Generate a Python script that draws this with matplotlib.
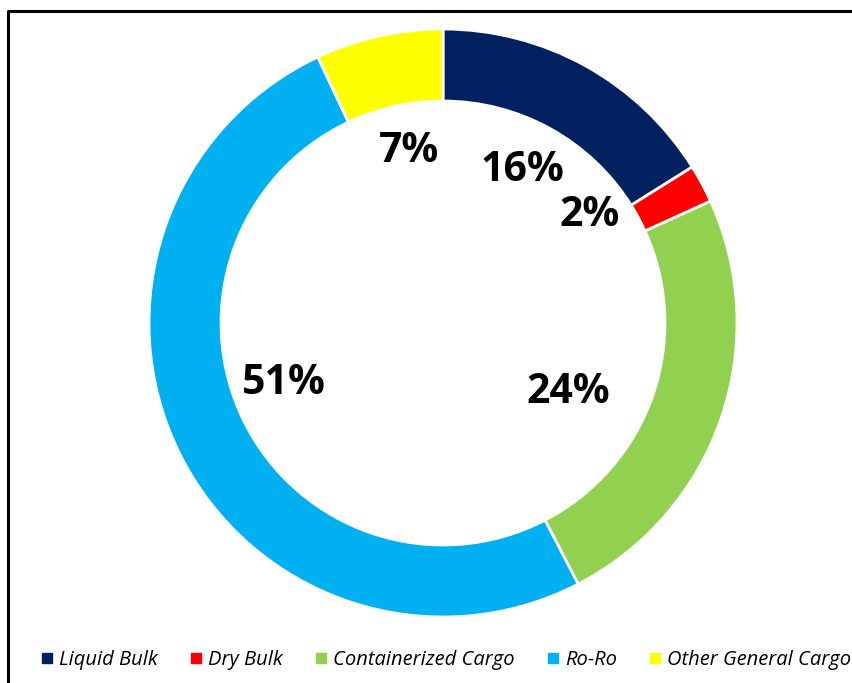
import numpy as np
import matplotlib
matplotlib.use('Agg')
import matplotlib.pyplot as plt
from matplotlib.lines import Line2D

categories = ['Liquid Bulk', 'Dry Bulk', 'Containerized Cargo', 'Ro-Ro', 'Other General Cargo']
shares = [16.1, 2.1, 24.2, 50.6, 7.0]
labels = ['16%', '2%', '24%', '51%', '7%']
colors = ['#002060', '#FF0000', '#92D050', '#00B0F0', '#FFFF00']

# label placement (radius as fraction of outer radius, angle shift in degrees)
label_r = [0.585, 0.62, 0.486, 0.58, 0.594]
label_shift = [-1.5, -8.0, 10.0, 5.5, 1.5]

W, H = 853, 683
fig = plt.figure(figsize=(W / 100, H / 100), dpi=100)

cx, cy, R = 443, 323, 294
ax = fig.add_axes([(cx - R) / W, (H - cy - R) / H, 2 * R / W, 2 * R / H])
wedges, _ = ax.pie(shares, colors=colors, startangle=90, counterclock=False,
                   radius=1.0, wedgeprops=dict(width=0.245, edgecolor='white', linewidth=2))
ax.set_xlim(-1, 1)
ax.set_ylim(-1, 1)
ax.set_aspect('equal')
ax.axis('off')

for w, lab, r, s in zip(wedges, labels, label_r, label_shift):
    mid = np.deg2rad((w.theta1 + w.theta2) / 2 - s)
    ax.text(r * np.cos(mid), r * np.sin(mid), lab, ha='center', va='center',
            fontsize=29.5, fontweight='bold', family='Open Sans', color='black')

handles = [Line2D([], [], marker='s', linestyle='none', markersize=6.5,
                  markerfacecolor=c, markeredgecolor=c) for c in colors]
fig.legend(handles, categories, loc='center', bbox_to_anchor=(0.521, 0.034), ncol=5,
           frameon=False, handletextpad=0.15, columnspacing=1.45, handlelength=0.9,
           prop=dict(family='Open Sans', style='italic', size=14.5))

# frame lines (the chart border is cut at right and bottom)
fig.add_artist(Line2D([8 / W, 8 / W, 1], [0, 1 - 11 / H, 1 - 11 / H],
                      transform=fig.transFigure, color='black', linewidth=2.2))

fig.savefig('out.png', dpi=100)
